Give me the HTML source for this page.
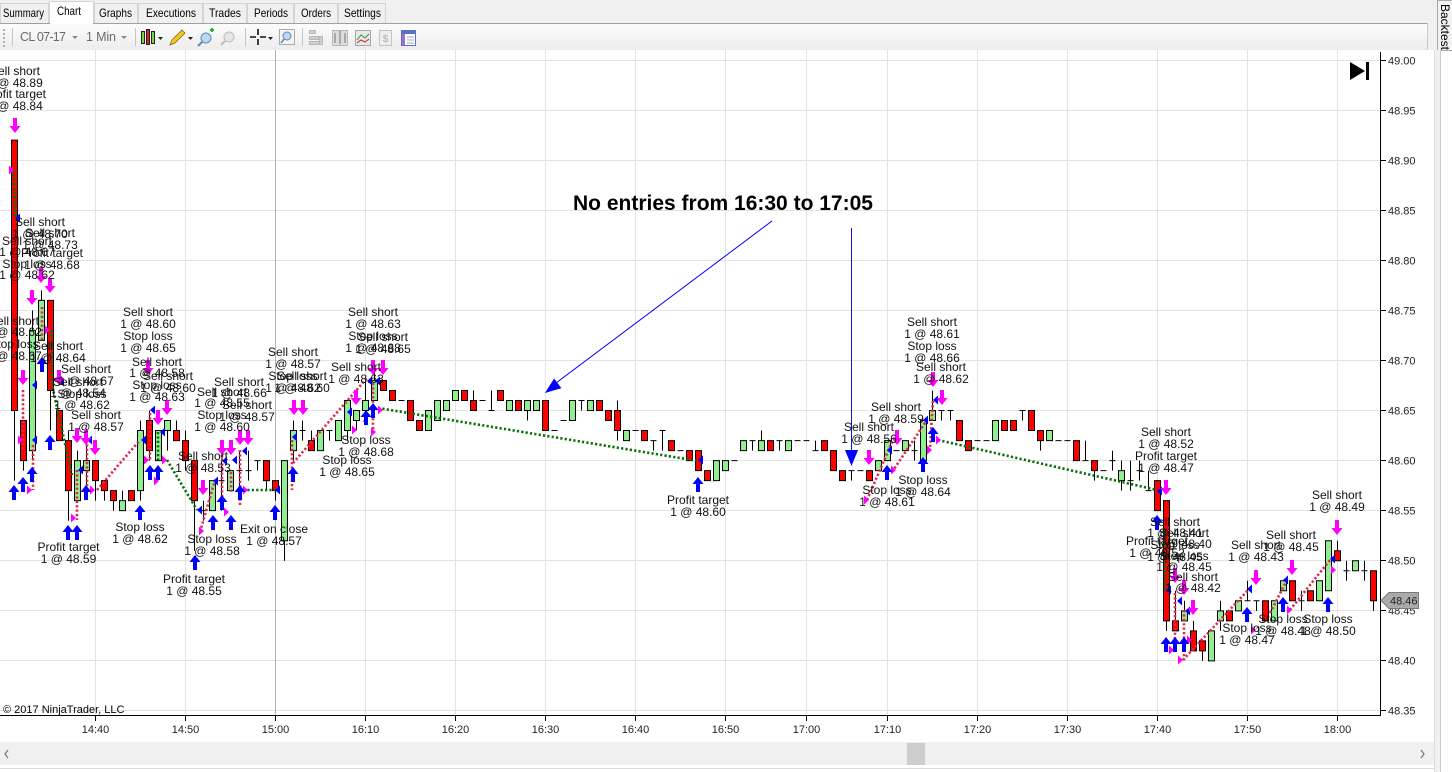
<!DOCTYPE html>
<html><head><meta charset="utf-8">
<style>
html,body{margin:0;padding:0;background:#fff;}
svg{display:block;}
text{font-family:"Liberation Sans",Arial,sans-serif;}
.l{font-size:12px;text-anchor:middle;fill:#111;}
.ax{font-size:11px;fill:#222;}
.axm{font-size:11px;fill:#222;text-anchor:middle;}
.c *{vector-effect:non-scaling-stroke;}
.r{fill:#ff0000;}
.g{fill:#90ee90;}
.gd{stroke:#0a6e0a;stroke-width:2.6;stroke-dasharray:2.2 2.2;fill:none;}
.rd{stroke:#e0284e;stroke-width:2.6;stroke-dasharray:2.2 2.2;fill:none;}
</style></head>
<body>
<svg width="1452" height="772" viewBox="0 0 1452 772" xmlns="http://www.w3.org/2000/svg">
<defs>
<linearGradient id="tb" x1="0" y1="0" x2="0" y2="1"><stop offset="0" stop-color="#fdfdfd"/><stop offset="1" stop-color="#ececec"/></linearGradient>
<path id="dn" d="M-2,0 h4 v8 h3.5 l-5.5,7 l-5.5,-7 h3.5 z" fill="#ff00ff"/>
<path id="up" d="M-2,15 h4 v-8 h3.5 l-5.5,-7 l-5.5,7 h3.5 z" fill="#0000ff"/>
<path id="me" d="M0,-4.5 L5,0 L0,4.5 z" fill="#ff00ff"/>
<path id="bx" d="M0,0 L5,-4.5 L5,4.5 z" fill="#0000ff"/>
</defs>

<!-- background -->
<rect x="0" y="0" width="1452" height="772" fill="#fff"/>
<rect x="0" y="0" width="1452" height="23" fill="#f0f0f0"/>

<!-- tabs -->
<g font-size="12" fill="#000">
<rect x="0.5" y="3.5" width="48" height="20" fill="#f0f0f0" stroke="#d4d4d4"/>
<text x="3" y="17" font-size="12" textLength="41" lengthAdjust="spacingAndGlyphs">Summary</text>
<rect x="94.5" y="3.5" width="43" height="20" fill="#f0f0f0" stroke="#d4d4d4"/>
<text x="99" y="17" font-size="12" textLength="33" lengthAdjust="spacingAndGlyphs">Graphs</text>
<rect x="138.5" y="3.5" width="64" height="20" fill="#f0f0f0" stroke="#d4d4d4"/>
<text x="146" y="17" font-size="12" textLength="50" lengthAdjust="spacingAndGlyphs">Executions</text>
<rect x="203.5" y="3.5" width="43" height="20" fill="#f0f0f0" stroke="#d4d4d4"/>
<text x="209" y="17" font-size="12" textLength="32" lengthAdjust="spacingAndGlyphs">Trades</text>
<rect x="247.5" y="3.5" width="46" height="20" fill="#f0f0f0" stroke="#d4d4d4"/>
<text x="254" y="17" font-size="12" textLength="34" lengthAdjust="spacingAndGlyphs">Periods</text>
<rect x="294.5" y="3.5" width="43" height="20" fill="#f0f0f0" stroke="#d4d4d4"/>
<text x="301" y="17" font-size="12" textLength="30" lengthAdjust="spacingAndGlyphs">Orders</text>
<rect x="338.5" y="3.5" width="47" height="20" fill="#f0f0f0" stroke="#d4d4d4"/>
<text x="344" y="17" font-size="12" textLength="37" lengthAdjust="spacingAndGlyphs">Settings</text>
<rect x="49.5" y="1.5" width="44" height="23" fill="#fff" stroke="#d4d4d4"/>
<rect x="50" y="22" width="43" height="4" fill="#fff"/>
<text x="57" y="15" font-size="12" textLength="24" lengthAdjust="spacingAndGlyphs">Chart</text>
</g>

<!-- toolbar -->
<rect x="0" y="23" width="1428" height="27" fill="url(#tb)"/>
<line x1="0" y1="23.5" x2="1428" y2="23.5" stroke="#a0a0a0"/>
<line x1="93" y1="23.5" x2="50" y2="23.5" stroke="#fff"/>
<line x1="1427.5" y1="23" x2="1427.5" y2="50" stroke="#c8c8c8"/>
<g fill="#b0b0b0"><rect x="3" y="29" width="2" height="2"/><rect x="3" y="33" width="2" height="2"/><rect x="3" y="37" width="2" height="2"/><rect x="3" y="41" width="2" height="2"/><rect x="3" y="45" width="2" height="2"/></g>
<g stroke="#c4c4c4"><line x1="12.5" y1="28" x2="12.5" y2="46"/><line x1="135.5" y1="28" x2="135.5" y2="46"/><line x1="245.5" y1="28" x2="245.5" y2="46"/><line x1="302.5" y1="28" x2="302.5" y2="46"/></g>
<text x="20" y="41" font-size="12.5" fill="#6a6a6a" textLength="46">CL 07-17</text>
<path d="M72,36 h6 l-3,3 z" fill="#8a8a8a"/>
<text x="86" y="41" font-size="12.5" fill="#6a6a6a" textLength="30">1 Min</text>
<path d="M121,36 h6 l-3,3 z" fill="#8a8a8a"/>
<g stroke="#222" stroke-width="1"><rect x="141.5" y="31.5" width="3" height="12" fill="#6ddc3c"/><rect x="146.5" y="29.5" width="3" height="15" fill="#e02020"/><rect x="151.5" y="31.5" width="3" height="12" fill="#6ddc3c"/></g>
<path d="M158,37 h5 l-2.5,3 z" fill="#222"/>
<path d="M170,45 l2,-5 l10,-10 l3,3 l-10,10 z" fill="#f3c623" stroke="#8a6a10" stroke-width="0.8"/>
<path d="M188,37 h5 l-2.5,3 z" fill="#222"/>
<circle cx="206" cy="38" r="5" fill="#bcd7ef" stroke="#5c8ab5"/><line x1="202" y1="42" x2="198" y2="46" stroke="#5c8ab5" stroke-width="2"/><path d="M210,30 h4 M212,28 v4" stroke="#2ab52a" stroke-width="2"/>
<circle cx="229" cy="37" r="5" fill="#e6e6e6" stroke="#bdbdbd"/><line x1="225" y1="41" x2="221" y2="45" stroke="#bdbdbd" stroke-width="2"/>
<path d="M250,37 h6 M260,37 h6 M258,29 v6 M258,39 v6" stroke="#111" stroke-width="1.6"/>
<path d="M268,37 h5 l-2.5,3 z" fill="#222"/>
<rect x="279.5" y="29.5" width="15" height="15" fill="#f4f4f4" stroke="#aaa"/><circle cx="287" cy="36" r="4" fill="#bcd7ef" stroke="#5c8ab5"/><line x1="284" y1="39" x2="281" y2="43" stroke="#5c8ab5" stroke-width="1.5"/>
<g fill="#cfcfcf" stroke="#b8b8b8"><rect x="309.5" y="30.5" width="6" height="3"/><rect x="309.5" y="36.5" width="9" height="3"/><rect x="309.5" y="41.5" width="12" height="3"/><rect x="319.5" y="36.5" width="3" height="8"/></g>
<rect x="332.5" y="30.5" width="15" height="15" fill="#dcdcdc" stroke="#b8b8b8"/><path d="M335,33 v10 M340,31 v13 M345,33 v10" stroke="#a8a8a8" stroke-width="2"/>
<rect x="355.5" y="30.5" width="15" height="15" fill="#e8e8e8" stroke="#a8a8a8"/><path d="M357,40 l4,-5 l4,3 l4,-4" stroke="#2a9a2a" fill="none"/><path d="M357,43 l4,-3 l4,2 l4,-3" stroke="#d02020" fill="none"/>
<rect x="379.5" y="30.5" width="12" height="15" fill="#eee" stroke="#c4c4c4"/><text x="385.5" y="42" font-size="10" text-anchor="middle" fill="#bbb" font-weight="bold">$</text>
<rect x="401.5" y="30.5" width="14" height="15" fill="#fff" stroke="#5a70c0"/><rect x="402" y="31" width="13" height="3" fill="#5a70c0"/><rect x="402" y="34" width="3" height="11" fill="#a070d0"/><path d="M407,37 h7 M407,40 h7 M407,43 h7" stroke="#9aa4d6"/>

<!-- Backtest tab / right strip -->
<rect x="1428" y="0" width="24" height="50" fill="#f0f0f0"/>
<rect x="1437.5" y="0.5" width="15" height="50" fill="#f2f2f2" stroke="#a8a8a8"/>
<text transform="translate(1441,4) rotate(90)" font-size="12" fill="#000">Backtest</text>
<rect x="1434" y="50" width="7" height="722" fill="#f0f0f0"/>
<line x1="1434.5" y1="50" x2="1434.5" y2="772" stroke="#dcdcdc"/>
<line x1="1440.5" y1="50" x2="1440.5" y2="772" stroke="#c8c8c8"/>

<!-- grid -->
<g stroke="#e3e3e3" stroke-width="1">
<line x1="0" y1="60.5" x2="1380" y2="60.5"/><line x1="0" y1="110.5" x2="1380" y2="110.5"/><line x1="0" y1="160.5" x2="1380" y2="160.5"/><line x1="0" y1="210.5" x2="1380" y2="210.5"/><line x1="0" y1="260.5" x2="1380" y2="260.5"/><line x1="0" y1="310.5" x2="1380" y2="310.5"/><line x1="0" y1="360.5" x2="1380" y2="360.5"/><line x1="0" y1="410.5" x2="1380" y2="410.5"/><line x1="0" y1="460.5" x2="1380" y2="460.5"/><line x1="0" y1="510.5" x2="1380" y2="510.5"/><line x1="0" y1="560.5" x2="1380" y2="560.5"/><line x1="0" y1="610.5" x2="1380" y2="610.5"/><line x1="0" y1="660.5" x2="1380" y2="660.5"/><line x1="0" y1="710.5" x2="1380" y2="710.5"/>
<line x1="95.5" y1="50" x2="95.5" y2="715"/><line x1="185.5" y1="50" x2="185.5" y2="715"/><line x1="365.5" y1="50" x2="365.5" y2="715"/><line x1="455.5" y1="50" x2="455.5" y2="715"/><line x1="545.5" y1="50" x2="545.5" y2="715"/><line x1="635.5" y1="50" x2="635.5" y2="715"/><line x1="725.5" y1="50" x2="725.5" y2="715"/><line x1="806.5" y1="50" x2="806.5" y2="715"/><line x1="887.5" y1="50" x2="887.5" y2="715"/><line x1="977.5" y1="50" x2="977.5" y2="715"/><line x1="1067.5" y1="50" x2="1067.5" y2="715"/><line x1="1157.5" y1="50" x2="1157.5" y2="715"/><line x1="1247.5" y1="50" x2="1247.5" y2="715"/><line x1="1337.5" y1="50" x2="1337.5" y2="715"/>
</g>
<line x1="275.5" y1="50" x2="275.5" y2="715" stroke="#b4b4b4"/>

<!-- axes -->
<line x1="1380.5" y1="52" x2="1380.5" y2="716" stroke="#000"/>
<line x1="0" y1="715.5" x2="1381" y2="715.5" stroke="#000"/>
<g stroke="#000">
<line x1="1381" y1="60.5" x2="1386" y2="60.5"/><line x1="1381" y1="110.5" x2="1386" y2="110.5"/><line x1="1381" y1="160.5" x2="1386" y2="160.5"/><line x1="1381" y1="210.5" x2="1386" y2="210.5"/><line x1="1381" y1="260.5" x2="1386" y2="260.5"/><line x1="1381" y1="310.5" x2="1386" y2="310.5"/><line x1="1381" y1="360.5" x2="1386" y2="360.5"/><line x1="1381" y1="410.5" x2="1386" y2="410.5"/><line x1="1381" y1="460.5" x2="1386" y2="460.5"/><line x1="1381" y1="510.5" x2="1386" y2="510.5"/><line x1="1381" y1="560.5" x2="1386" y2="560.5"/><line x1="1381" y1="610.5" x2="1386" y2="610.5"/><line x1="1381" y1="660.5" x2="1386" y2="660.5"/><line x1="1381" y1="710.5" x2="1386" y2="710.5"/>
<line x1="95.5" y1="716" x2="95.5" y2="721"/><line x1="185.5" y1="716" x2="185.5" y2="721"/><line x1="275.5" y1="716" x2="275.5" y2="721"/><line x1="365.5" y1="716" x2="365.5" y2="721"/><line x1="455.5" y1="716" x2="455.5" y2="721"/><line x1="545.5" y1="716" x2="545.5" y2="721"/><line x1="635.5" y1="716" x2="635.5" y2="721"/><line x1="725.5" y1="716" x2="725.5" y2="721"/><line x1="806.5" y1="716" x2="806.5" y2="721"/><line x1="887.5" y1="716" x2="887.5" y2="721"/><line x1="977.5" y1="716" x2="977.5" y2="721"/><line x1="1067.5" y1="716" x2="1067.5" y2="721"/><line x1="1157.5" y1="716" x2="1157.5" y2="721"/><line x1="1247.5" y1="716" x2="1247.5" y2="721"/><line x1="1337.5" y1="716" x2="1337.5" y2="721"/>
</g>
<g class="ax">
<text x="1388" y="64.5">49.00</text><text x="1388" y="114.5">48.95</text><text x="1388" y="164.5">48.90</text><text x="1388" y="214.5">48.85</text><text x="1388" y="264.5">48.80</text><text x="1388" y="314.5">48.75</text><text x="1388" y="364.5">48.70</text><text x="1388" y="414.5">48.65</text><text x="1388" y="464.5">48.60</text><text x="1388" y="514.5">48.55</text><text x="1388" y="564.5">48.50</text><text x="1388" y="614.5">48.45</text><text x="1388" y="664.5">48.40</text><text x="1388" y="714.5">48.35</text>
</g>
<g class="axm">
<text x="95.5" y="733">14:40</text><text x="185.5" y="733">14:50</text><text x="275.5" y="733">15:00</text><text x="365.5" y="733">16:10</text><text x="455.5" y="733">16:20</text><text x="545.5" y="733">16:30</text><text x="635.5" y="733">16:40</text><text x="725.5" y="733">16:50</text><text x="806.5" y="733">17:00</text><text x="887.5" y="733">17:10</text><text x="977.5" y="733">17:20</text><text x="1067.5" y="733">17:30</text><text x="1157.5" y="733">17:40</text><text x="1247.5" y="733">17:50</text><text x="1337.5" y="733">18:00</text>
</g>

<!-- current price marker -->
<path d="M1381,600.5 L1389,592.5 L1418.5,592.5 L1418.5,608.5 L1389,608.5 Z" fill="#aaaaaa" stroke="#7a7a7a"/>
<text x="1390" y="604.5" class="ax" fill="#000">48.46</text>

<!-- skip-to-end icon -->
<path d="M1350,62 L1365,71 L1350,80 Z" fill="#000"/><rect x="1366" y="62" width="3" height="18" fill="#000"/>

<!-- copyright -->
<text x="3" y="713" font-size="11" fill="#000">© 2017 NinjaTrader, LLC</text>

<!-- candles -->
<g class="c" transform="matrix(9 0 0 -10.015 95.5 1061.5)" stroke="#000" stroke-width="1">
<path fill="none" d="M-9 58V92M-8 59V64M-7 60V75M-6 72V77M-5 63V76M-4 62V65M-3 54V63M-2 56V61M-1 57V62M0 56V60M1 56V58M2 55V57M3 55V57M4 56V57M5 56V64M6 60V65M7 60V63M8 61V64M9 62V64M10 59V63M11 51V60M12 54V56M13 55V58M14 55V60M15 57V59M16 57V61M17 58V61M18 59V60M19 57V60M20 56V58M21 50V60M22 60V64M23 62V64M24 61V63M25 61V63M26 62V63M27 62V64M28 62V66M29 63V65M30 64V68M31 66V69M32 67V68M33 66V67M35 64V66M36 63V64M37 63V65M38 64V66M39 65V66M40 66V67M41 66V67M42 65V67M44 65V67M45 66V67M46 65V66M47 65V66M48 64V66M49 65V66M50 63V66M53 64V66M54 65V66M55 65V66M56 65V66M57 64V65M58 62V66M59 62V63M61 62V63M62 61V62M63 61V63M64 61V62M66 60V61M67 59V61M68 58V59M69 58V60M70 59V60M72 61V62M73 61V62M74 61V63M75 61V62M76 61V62M77 61V62M80 61V62M81 61V62M82 59V61M83 58V59M84 58V59M86 58V59M87 59V60M88 60V62M90 61V62M91 60V62M92 60V64M93 64V67M94 64V65M95 64V65M96 62V64M97 61V62M100 62V64M101 63V64M102 63V64M103 64V65M104 63V65M105 61V63M106 62V63M109 60V62M110 60V62M111 58V60M113 59V61M114 57V60M115 57V60M116 58V60M117 57V59M118 55V58M119 43V56M120 43V47M121 44V46M122 41V44M123 40V42M124 40V43M125 43V46M126 44V45M127 45V46M128 46V48M129 45V46M130 44V46M131 44V46M132 47V48M133 46V48M134 45V47M135 46V47M136 46V48M137 47V52M138 50V52M139 48V50M140 49V50M141 48V50M142 45V49"/>
<path fill="none" d="M11.667 55h.667M13.667 58h.667M15.667 59h.667M16.667 59h.667M17.667 60h.667M22.667 63h.667M25.667 63h.667M33.667 66h.667M42.667 66h.667M43.667 65h.667M50.667 63h.667M51.667 64h.667M53.667 66h.667M59.667 63h.667M61.667 62h.667M62.667 63h.667M64.667 61h.667M70.667 60h.667M72.667 62h.667M75.667 62h.667M77.667 62h.667M78.667 62h.667M79.667 61h.667M83.667 59h.667M84.667 59h.667M88.667 61h.667M90.667 61h.667M93.667 65h.667M94.667 65h.667M97.667 62h.667M98.667 62h.667M102.667 65h.667M106.667 62h.667M107.667 62h.667M109.667 60h.667M111.667 59h.667M112.667 60h.667M114.667 58h.667M115.667 59h.667M116.667 57h.667M127.667 46h.667M128.667 46h.667M133.667 46h.667M138.667 49h.667M140.667 49h.667"/>
<g class="r">
<rect x="-9.333" y="65" width=".667" height="27"/><rect x="-8.333" y="60" width=".667" height="4"/><rect x="-5.333" y="67" width=".667" height="9"/><rect x="-4.333" y="62" width=".667" height="3"/><rect x="-3.333" y="57" width=".667" height="5"/><rect x="-.333" y="58" width=".667" height="2"/><rect x=".667" y="57" width=".667" height="1"/><rect x="1.667" y="56" width=".667" height="1"/><rect x="3.667" y="56" width=".667" height="1"/><rect x="5.667" y="61" width=".667" height="3"/><rect x="8.667" y="62" width=".667" height="1"/><rect x="9.667" y="60" width=".667" height="2"/><rect x="10.667" y="56" width=".667" height="4"/><rect x="18.667" y="58" width=".667" height="2"/><rect x="19.667" y="57" width=".667" height="1"/><rect x="23.667" y="61" width=".667" height="1"/><rect x="31.667" y="67" width=".667" height="1"/><rect x="32.667" y="66" width=".667" height="1"/><rect x="34.667" y="64" width=".667" height="2"/><rect x="35.667" y="63" width=".667" height="1"/><rect x="40.667" y="66" width=".667" height="1"/><rect x="41.667" y="65" width=".667" height="1"/><rect x="44.667" y="66" width=".667" height="1"/><rect x="46.667" y="65" width=".667" height="1"/><rect x="49.667" y="63" width=".667" height="3"/><rect x="55.667" y="65" width=".667" height="1"/><rect x="56.667" y="64" width=".667" height="1"/><rect x="57.667" y="63" width=".667" height="2"/><rect x="60.667" y="62" width=".667" height="1"/><rect x="63.667" y="61" width=".667" height="1"/><rect x="65.667" y="60" width=".667" height="1"/><rect x="66.667" y="59" width=".667" height="2"/><rect x="67.667" y="58" width=".667" height="1"/><rect x="74.667" y="61" width=".667" height="1"/><rect x="80.667" y="61" width=".667" height="1"/><rect x="81.667" y="59" width=".667" height="2"/><rect x="82.667" y="58" width=".667" height="1"/><rect x="85.667" y="58" width=".667" height="1"/><rect x="95.667" y="62" width=".667" height="2"/><rect x="96.667" y="61" width=".667" height="1"/><rect x="100.667" y="63" width=".667" height="1"/><rect x="101.667" y="63" width=".667" height="1"/><rect x="103.667" y="63" width=".667" height="2"/><rect x="104.667" y="62" width=".667" height="1"/><rect x="108.667" y="60" width=".667" height="2"/><rect x="110.667" y="59" width=".667" height="1"/><rect x="117.667" y="55" width=".667" height="3"/><rect x="118.667" y="44" width=".667" height="12"/><rect x="119.667" y="43" width=".667" height="1"/><rect x="121.667" y="41" width=".667" height="2"/><rect x="122.667" y="41" width=".667" height="1"/><rect x="125.667" y="44" width=".667" height="1"/><rect x="129.667" y="44" width=".667" height="2"/><rect x="132.667" y="46" width=".667" height="2"/><rect x="134.667" y="46" width=".667" height="1"/><rect x="137.667" y="50" width=".667" height="1"/><rect x="141.667" y="46" width=".667" height="3"/>
</g>
<g class="g">
<rect x="-7.333" y="61" width=".667" height="12"/><rect x="-6.333" y="72" width=".667" height="4"/><rect x="-2.333" y="56" width=".667" height="4"/><rect x="-1.333" y="59" width=".667" height="1"/><rect x="2.667" y="55" width=".667" height="1"/><rect x="4.667" y="57" width=".667" height="6"/><rect x="6.667" y="60" width=".667" height="3"/><rect x="7.667" y="63" width=".667" height="1"/><rect x="12.667" y="55" width=".667" height="3"/><rect x="14.667" y="57" width=".667" height="2"/><rect x="20.667" y="52" width=".667" height="8"/><rect x="21.667" y="61" width=".667" height="2"/><rect x="24.667" y="61" width=".667" height="2"/><rect x="26.667" y="62" width=".667" height="2"/><rect x="27.667" y="63" width=".667" height="3"/><rect x="28.667" y="64" width=".667" height="1"/><rect x="29.667" y="65" width=".667" height="1"/><rect x="30.667" y="66" width=".667" height="2"/><rect x="36.667" y="63" width=".667" height="2"/><rect x="37.667" y="64" width=".667" height="2"/><rect x="38.667" y="65" width=".667" height="1"/><rect x="39.667" y="66" width=".667" height="1"/><rect x="45.667" y="65" width=".667" height="1"/><rect x="47.667" y="65" width=".667" height="1"/><rect x="48.667" y="65" width=".667" height="1"/><rect x="52.667" y="64" width=".667" height="2"/><rect x="54.667" y="65" width=".667" height="1"/><rect x="58.667" y="62" width=".667" height="1"/><rect x="68.667" y="58" width=".667" height="2"/><rect x="69.667" y="59" width=".667" height="1"/><rect x="71.667" y="61" width=".667" height="1"/><rect x="73.667" y="61" width=".667" height="1"/><rect x="76.667" y="61" width=".667" height="1"/><rect x="86.667" y="59" width=".667" height="1"/><rect x="87.667" y="60" width=".667" height="2"/><rect x="89.667" y="61" width=".667" height="1"/><rect x="91.667" y="60" width=".667" height="4"/><rect x="92.667" y="64" width=".667" height="1"/><rect x="99.667" y="62" width=".667" height="2"/><rect x="105.667" y="62" width=".667" height="1"/><rect x="113.667" y="58" width=".667" height="1"/><rect x="120.667" y="44" width=".667" height="1"/><rect x="123.667" y="40" width=".667" height="3"/><rect x="124.667" y="44" width=".667" height="1"/><rect x="126.667" y="45" width=".667" height="1"/><rect x="130.667" y="44" width=".667" height="2"/><rect x="131.667" y="47" width=".667" height="1"/><rect x="135.667" y="46" width=".667" height="2"/><rect x="136.667" y="47" width=".667" height="5"/><rect x="139.667" y="49" width=".667" height="1"/>
</g>
</g>

<!-- trade lines -->
<g class="gd">
<line x1="13.5" y1="170" x2="15.5" y2="218"/>
<polyline points="51,330 52,385 72,475"/>
<line x1="167" y1="460" x2="197" y2="510"/>
<line x1="158" y1="432" x2="158" y2="460"/>
<line x1="243" y1="490" x2="277" y2="490"/>
<line x1="378" y1="408" x2="698" y2="461"/>
<line x1="938" y1="440" x2="1157" y2="490"/>
<line x1="1165" y1="530" x2="1165" y2="590"/>
</g>
<g class="rd">
<line x1="23" y1="390" x2="23" y2="450"/>
<line x1="33" y1="445" x2="33" y2="490"/>
<line x1="42" y1="307" x2="42" y2="340"/>
<line x1="77" y1="470" x2="77" y2="520"/>
<line x1="87" y1="440" x2="87" y2="490"/>
<line x1="97" y1="490" x2="140" y2="440"/>
<line x1="150" y1="413" x2="150" y2="460"/>
<line x1="200" y1="532" x2="215" y2="480"/>
<line x1="222" y1="455" x2="222" y2="510"/>
<line x1="231" y1="472" x2="231" y2="492"/>
<line x1="240" y1="450" x2="240" y2="507"/>
<line x1="293" y1="463" x2="367" y2="378"/>
<line x1="292" y1="440" x2="292" y2="490"/>
<line x1="373" y1="383" x2="373" y2="430"/>
<line x1="867" y1="500" x2="892" y2="442"/>
<line x1="892" y1="472" x2="927" y2="420"/>
<line x1="930" y1="447" x2="933" y2="400"/>
<line x1="1175" y1="593" x2="1175" y2="650"/>
<line x1="1184" y1="610" x2="1184" y2="660"/>
<line x1="1183" y1="660" x2="1250" y2="588"/>
<line x1="1270" y1="613" x2="1287" y2="580"/>
<line x1="1290" y1="610" x2="1330" y2="560"/>
</g>

<!-- small entry/exit triangles -->
<g>
<use href="#me" x="9" y="170"/><use href="#me" x="18" y="440"/><use href="#me" x="27" y="490"/><use href="#me" x="71" y="518"/><use href="#me" x="90" y="490"/><use href="#me" x="45" y="330"/><use href="#me" x="144" y="460"/><use href="#me" x="154" y="481"/><use href="#me" x="162" y="460"/><use href="#me" x="199" y="531"/><use href="#me" x="224" y="512"/><use href="#me" x="243" y="490"/><use href="#me" x="352" y="430"/><use href="#me" x="371" y="432"/><use href="#me" x="378" y="410"/><use href="#me" x="864" y="500"/><use href="#me" x="891" y="470"/><use href="#me" x="927" y="450"/><use href="#me" x="936" y="440"/><use href="#me" x="1169" y="650"/><use href="#me" x="1178" y="660"/><use href="#me" x="1187" y="640"/><use href="#me" x="1251" y="630"/><use href="#me" x="1287" y="610"/><use href="#me" x="1331" y="570"/>
<use href="#bx" x="15" y="218"/><use href="#bx" x="32" y="440"/><use href="#bx" x="78" y="470"/><use href="#bx" x="87" y="440"/><use href="#bx" x="141" y="440"/><use href="#bx" x="32" y="385"/><use href="#bx" x="59" y="382"/><use href="#bx" x="150" y="410"/><use href="#bx" x="160" y="432"/><use href="#bx" x="197" y="510"/><use href="#bx" x="213" y="481"/><use href="#bx" x="222" y="461"/><use href="#bx" x="232" y="460"/><use href="#bx" x="242" y="451"/><use href="#bx" x="275" y="490"/><use href="#bx" x="292" y="437"/><use href="#bx" x="347" y="412"/><use href="#bx" x="363" y="421"/><use href="#bx" x="367" y="381"/><use href="#bx" x="375" y="381"/><use href="#bx" x="698" y="460"/><use href="#bx" x="887" y="450"/><use href="#bx" x="923" y="420"/><use href="#bx" x="933" y="400"/><use href="#bx" x="1157" y="491"/><use href="#bx" x="1166" y="590"/><use href="#bx" x="1177" y="601"/><use href="#bx" x="1185" y="611"/><use href="#bx" x="1247" y="589"/><use href="#bx" x="1283" y="580"/><use href="#bx" x="1330" y="559"/>
</g>

<!-- arrows -->
<g>
<use href="#dn" x="15" y="118"/><use href="#dn" x="23" y="370"/><use href="#dn" x="32" y="290"/><use href="#dn" x="41" y="268"/><use href="#dn" x="50" y="278"/><use href="#dn" x="59" y="370"/><use href="#dn" x="77" y="428"/><use href="#dn" x="86" y="430"/><use href="#dn" x="95" y="440"/><use href="#dn" x="148" y="360"/><use href="#dn" x="158" y="410"/><use href="#dn" x="167" y="400"/><use href="#dn" x="203" y="480"/><use href="#dn" x="222" y="440"/><use href="#dn" x="231" y="440"/><use href="#dn" x="240" y="430"/><use href="#dn" x="248" y="430"/><use href="#dn" x="294" y="400"/><use href="#dn" x="303" y="400"/><use href="#dn" x="356" y="390"/><use href="#dn" x="373" y="360"/><use href="#dn" x="383" y="360"/><use href="#dn" x="869" y="450"/><use href="#dn" x="897" y="430"/><use href="#dn" x="933" y="372"/><use href="#dn" x="942" y="390"/><use href="#dn" x="1166" y="480"/><use href="#dn" x="1175" y="568"/><use href="#dn" x="1184" y="580"/><use href="#dn" x="1193" y="600"/><use href="#dn" x="1256" y="570"/><use href="#dn" x="1292" y="560"/><use href="#dn" x="1337" y="520"/>
<use href="#up" x="14" y="485"/><use href="#up" x="23" y="477"/><use href="#up" x="32" y="467"/><use href="#up" x="42" y="357"/><use href="#up" x="50" y="435"/><use href="#up" x="68" y="525"/><use href="#up" x="77" y="525"/><use href="#up" x="86" y="485"/><use href="#up" x="140" y="505"/><use href="#up" x="150" y="465"/><use href="#up" x="158" y="465"/><use href="#up" x="195" y="555"/><use href="#up" x="213" y="515"/><use href="#up" x="222" y="495"/><use href="#up" x="231" y="515"/><use href="#up" x="240" y="485"/><use href="#up" x="275" y="505"/><use href="#up" x="293" y="467"/><use href="#up" x="366" y="410"/><use href="#up" x="373" y="403"/><use href="#up" x="698" y="477"/><use href="#up" x="887" y="465"/><use href="#up" x="923" y="457"/><use href="#up" x="933" y="427"/><use href="#up" x="1157" y="515"/><use href="#up" x="1166" y="637"/><use href="#up" x="1175" y="637"/><use href="#up" x="1184" y="637"/><use href="#up" x="1247" y="607"/><use href="#up" x="1283" y="597"/><use href="#up" x="1328" y="597"/>
</g>

<!-- annotations -->
<text x="573" y="210" font-size="21" font-weight="bold" fill="#000">No entries from 16:30 to 17:05</text>
<line x1="772" y1="221" x2="556" y2="383" stroke="#0000ff" stroke-width="1"/>
<polygon points="545,393 561.4,388.1 554.1,378.5" fill="#0000ff"/>
<line x1="851.5" y1="228" x2="851.5" y2="452" stroke="#1414c8" stroke-width="1"/>
<polygon points="845,450 858,450 851.5,466" fill="#0000ff"/>

<!-- execution labels -->
<g class="l">
<text x="15" y="75">Sell short</text><text x="15" y="87">1 @ 48.89</text><text x="15" y="98">Profit target</text><text x="15" y="110">1 @ 48.84</text>
<text x="40" y="226">Sell short</text><text x="40" y="238">1 @ 48.70</text>
<text x="50" y="237">Sell short</text><text x="50" y="249">1 @ 48.73</text>
<text x="27" y="245">Sell short</text><text x="27" y="256">1 @ 48.67</text><text x="27" y="268">Stop loss</text><text x="27" y="279">1 @ 48.62</text>
<text x="52" y="257">Profit target</text><text x="52" y="269">1 @ 48.68</text>
<text x="14" y="325">Sell short</text><text x="14" y="336">1 @ 48.62</text><text x="14" y="348">Stop loss</text><text x="14" y="360">1 @ 48.67</text>
<text x="58" y="350">Sell short</text><text x="58" y="362">1 @ 48.64</text>
<text x="86" y="373">Sell short</text><text x="86" y="385">1 @ 48.67</text>
<text x="78" y="386">Sell short</text><text x="78" y="397">1 @ 48.54</text>
<text x="82" y="398">Stop loss</text><text x="82" y="409">1 @ 48.62</text>
<text x="96" y="419">Sell short</text><text x="96" y="431">1 @ 48.57</text>
<text x="68.5" y="551">Profit target</text><text x="68.5" y="563">1 @ 48.59</text>
<text x="140" y="531">Stop loss</text><text x="140" y="543">1 @ 48.62</text>
<text x="148" y="316">Sell short</text><text x="148" y="328">1 @ 48.60</text><text x="148" y="340">Stop loss</text><text x="148" y="352">1 @ 48.65</text>
<text x="157" y="366">Sell short</text><text x="157" y="377">1 @ 48.58</text><text x="157" y="389">Stop loss</text><text x="157" y="401">1 @ 48.63</text>
<text x="168" y="380">Sell short</text><text x="168" y="392">1 @ 48.60</text>
<text x="194" y="583">Profit target</text><text x="194" y="595">1 @ 48.55</text>
<text x="212" y="543">Stop loss</text><text x="212" y="555">1 @ 48.58</text>
<text x="203" y="460">Sell short</text><text x="203" y="472">1 @ 48.53</text>
<text x="239" y="386">Sell short</text><text x="239" y="397">1 @ 48.66</text>
<text x="222" y="396">Sell short</text><text x="222" y="407">1 @ 48.55</text><text x="222" y="419">Stop loss</text><text x="222" y="431">1 @ 48.60</text>
<text x="247" y="409">Sell short</text><text x="247" y="421">1 @ 48.57</text>
<text x="274" y="533">Exit on close</text><text x="274" y="545">1 @ 48.57</text>
<text x="293" y="356">Sell short</text><text x="293" y="368">1 @ 48.57</text><text x="293" y="380">Stop loss</text><text x="293" y="392">1 @ 48.62</text>
<text x="302" y="380">Sell short</text><text x="302" y="392">1 @ 48.60</text>
<text x="373" y="316">Sell short</text><text x="373" y="328">1 @ 48.63</text><text x="373" y="340">Stop loss</text><text x="373" y="352">1 @ 48.68</text>
<text x="383" y="341">Sell short</text><text x="383" y="353">1 @ 48.65</text>
<text x="356" y="371">Sell short</text><text x="356" y="383">1 @ 48.63</text>
<text x="347" y="464">Stop loss</text><text x="347" y="476">1 @ 48.65</text>
<text x="366" y="444">Stop loss</text><text x="366" y="456">1 @ 48.68</text>
<text x="698" y="504">Profit target</text><text x="698" y="516">1 @ 48.60</text>
<text x="869" y="431">Sell short</text><text x="869" y="443">1 @ 48.56</text>
<text x="887" y="494">Stop loss</text><text x="887" y="506">1 @ 48.61</text>
<text x="896" y="411">Sell short</text><text x="896" y="423">1 @ 48.59</text>
<text x="923" y="484">Stop loss</text><text x="923" y="496">1 @ 48.64</text>
<text x="932" y="326">Sell short</text><text x="932" y="338">1 @ 48.61</text><text x="932" y="350">Stop loss</text><text x="932" y="362">1 @ 48.66</text>
<text x="941" y="371">Sell short</text><text x="941" y="383">1 @ 48.62</text>
<text x="1166" y="436">Sell short</text><text x="1166" y="448">1 @ 48.52</text><text x="1166" y="460">Profit target</text><text x="1166" y="472">1 @ 48.47</text>
<text x="1175" y="526">Sell short</text><text x="1175" y="537">1 @ 48.41</text><text x="1175" y="549">Stop loss</text><text x="1175" y="561">1 @ 48.45</text>
<text x="1184" y="537">Sell short</text><text x="1184" y="548">1 @ 48.40</text><text x="1184" y="560">Stop loss</text><text x="1184" y="571">1 @ 48.45</text>
<text x="1157" y="545">Profit target</text><text x="1157" y="557">1 @ 48.52</text>
<text x="1193" y="581">Sell short</text><text x="1193" y="592">1 @ 48.42</text>
<text x="1256" y="549">Sell short</text><text x="1256" y="561">1 @ 48.43</text>
<text x="1291" y="539">Sell short</text><text x="1291" y="551">1 @ 48.45</text>
<text x="1337" y="499">Sell short</text><text x="1337" y="511">1 @ 48.49</text>
<text x="1247" y="632">Stop loss</text><text x="1247" y="644">1 @ 48.47</text>
<text x="1283" y="623">Stop loss</text><text x="1283" y="635">1 @ 48.48</text>
<text x="1328" y="623">Stop loss</text><text x="1328" y="635">1 @ 48.50</text>
</g>

<!-- scrollbar -->
<rect x="0" y="742" width="1434" height="23" fill="#f0f0f0"/>
<rect x="907" y="743" width="18" height="22" fill="#cdcdcd"/>
<path d="M8,750 l-3,4 l3,4" stroke="#777" stroke-width="1.2" fill="none"/>
<path d="M1421,750 l3,4 l-3,4" stroke="#777" stroke-width="1.2" fill="none"/>
<rect x="0" y="765" width="1434" height="7" fill="#fff"/>
<line x1="0" y1="768.5" x2="1434" y2="768.5" stroke="#dcdcdc"/>
</svg>
</body></html>
